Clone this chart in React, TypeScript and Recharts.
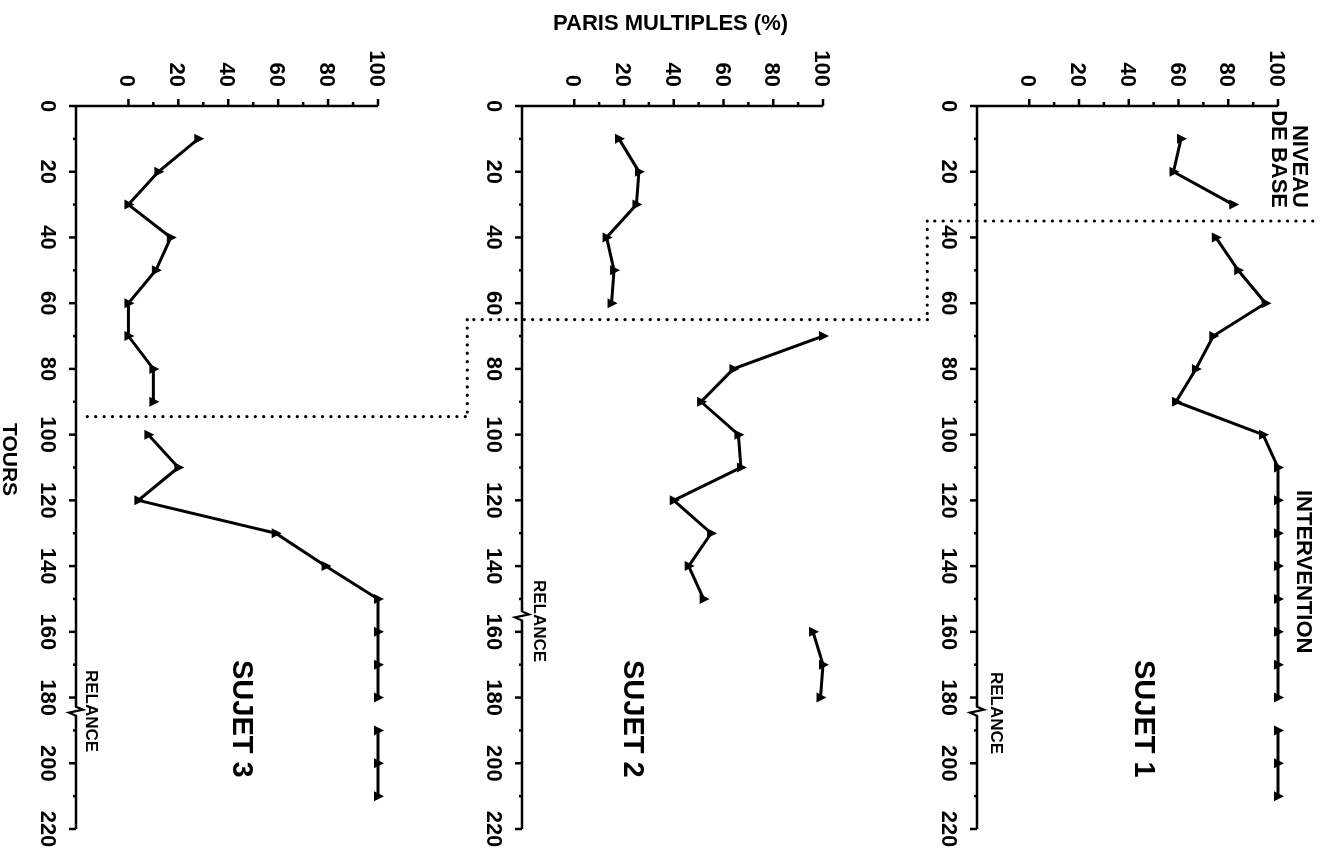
import { LineChart, Line, XAxis, YAxis, ReferenceLine, ReferenceDot } from "recharts";

// Tours (x) and "paris multiples" in % (y)
const S1_TOURS = [10, 20, 30, 40, 50, 60, 70, 80, 90, 100, 110, 120, 130, 140, 150, 160, 170, 180, 190, 200, 210];
const S1_PCT = [61, 58, 82, 75, 84, 95, 74, 67, 59, 94, 100, 100, 100, 100, 100, 100, 100, 100, 100, 100, 100];

const S2_TOURS = [10, 20, 30, 40, 50, 60, 70, 80, 90, 100, 110, 120, 130, 140, 150, 160, 170, 180];
const S2_PCT = [18, 26, 25, 13, 16, 15, 100, 64, 51, 66, 67, 40, 55, 46, 52, 96, 100, 99];

const S3_TOURS = [10, 20, 30, 40, 50, 60, 70, 80, 90, 100, 110, 120, 130, 140, 150, 160, 170, 180, 190, 200, 210];
const S3_PCT = [28, 12, 0, 17, 11, 0, 0, 10, 10, 8, 20, 4, 59, 79, 100, 100, 100, 100, 100, 100, 100];

// start of intervention and start of follow-up (relance), per subject
const PHASE_CHANGE = [35, 65, 94.5];
const RELANCE_BREAK = [184, 155, 184];

const TOUR_TICKS = [0, 10, 20, 30, 40, 50, 60, 70, 80, 90, 100, 110, 120, 130, 140, 150, 160, 170, 180, 190, 200, 210, 220];
const PCT_TICKS = [0, 10, 20, 30, 40, 50, 60, 70, 80, 90, 100];

const FONT = "'Liberation Sans', Arial, sans-serif";

// the figure is drawn upright (tours across) and then turned a quarter turn
const W = 853;
const H = 1328;

const panels = [
  { name: "SUJET 1", tours: S1_TOURS, pct: S1_PCT, top: 0, height: 430, plotTop: 50, plotBottom: 351, stair: [114, -41], labelY: 183, relX: 672, relY: 331 },
  { name: "SUJET 2", tours: S2_TOURS, pct: S2_PCT, top: 380, height: 500, plotTop: 505, plotBottom: 806, stair: [142, -43], labelY: 694, relX: 580, relY: 788 },
  { name: "SUJET 3", tours: S3_TOURS, pct: S3_PCT, top: 840, height: 488, plotTop: 950, plotBottom: 1252, stair: [135, -19], labelY: 1085, relX: 670, relY: 1236 },
];

const TourTick = (props: any) => {
  const { x, y, payload } = props;
  const major = payload.value % 20 === 0;
  return (
    <g>
      <line x1={x} y1={y} x2={x} y2={y + (major ? 7 : 3)} stroke="#000" strokeWidth={2.5} />
      {major && (
        <text x={x} y={y + 35} textAnchor="middle" fontFamily={FONT} fontWeight={700} fontSize={22} fill="#000">
          {payload.value}
        </text>
      )}
    </g>
  );
};

const PctTick = (props: any) => {
  const { x, y, payload } = props;
  const major = payload.value % 20 === 0;
  return (
    <g>
      <line x1={x} y1={y} x2={x - (major ? 7 : 4)} y2={y} stroke="#000" strokeWidth={2.5} />
      {major && (
        <text x={x - 19} y={y + 8} textAnchor="end" fontFamily={FONT} fontWeight={700} fontSize={22} fill="#000">
          {payload.value}
        </text>
      )}
    </g>
  );
};

const Triangle = (props: any) => {
  const { cx, cy, index } = props;
  if (cx == null || cy == null) return <g key={index} />;
  return <path key={index} d={`M${cx},${cy - 6} L${cx + 5},${cy + 4} L${cx - 5},${cy + 4} Z`} fill="#000" />;
};

const BreakMark = (props: any) => {
  const { cx, cy } = props;
  return (
    <g>
      <rect x={cx - 4} y={cy - 3} width={9} height={6} fill="#fff" />
      <path
        d={`M${cx - 8},${cy} L${cx - 4},${cy} L${cx - 1},${cy - 7} L${cx + 2},${cy + 7} L${cx + 5},${cy} L${cx + 8},${cy}`}
        fill="none"
        stroke="#000"
        strokeWidth={2.2}
      />
    </g>
  );
};

function Panel({ idx }: { idx: number }) {
  const p = panels[idx];
  const points = p.tours.map((t, i) => ({ tour: t, pct: p.pct[i] }));
  const baseline = points.filter((d) => d.tour < PHASE_CHANGE[idx]);
  const intervention = points.filter((d) => d.tour > PHASE_CHANGE[idx] && d.tour < RELANCE_BREAK[idx]);
  const relance = points.filter((d) => d.tour > RELANCE_BREAK[idx]);
  const phase = PHASE_CHANGE[idx];
  const next = PHASE_CHANGE[idx + 1];
  const dotted = { stroke: "#000", strokeWidth: 3.2, strokeDasharray: "0.1 8.3", strokeLinecap: "round" as const };

  return (
    <div style={{ position: "absolute", left: 0, top: p.top }}>
      <LineChart
        width={W}
        height={p.height}
        margin={{ top: p.plotTop - p.top, right: 24, left: 26, bottom: p.top + p.height - p.plotBottom - 50 }}
      >
        <XAxis
          type="number"
          dataKey="tour"
          domain={[0, 220]}
          ticks={TOUR_TICKS}
          interval={0}
          height={50}
          tickSize={0}
          tickMargin={0}
          tickLine={false}
          tick={<TourTick />}
          axisLine={{ stroke: "#000", strokeWidth: 2.5 }}
        />
        <YAxis
          type="number"
          dataKey="pct"
          domain={[-21, 100]}
          ticks={PCT_TICKS}
          interval={0}
          width={80}
          tickSize={0}
          tickMargin={0}
          tickLine={false}
          tick={<PctTick />}
          axisLine={{ stroke: "#000", strokeWidth: 2.5 }}
        />
        <ReferenceLine segment={[{ x: phase, y: p.stair[0] }, { x: phase, y: p.stair[1] }]} ifOverflow="visible" {...dotted} />
        {next !== undefined && (
          <ReferenceLine segment={[{ x: phase, y: p.stair[1] }, { x: next, y: p.stair[1] }]} ifOverflow="visible" {...dotted} />
        )}
        <ReferenceDot x={RELANCE_BREAK[idx]} y={-21} ifOverflow="visible" shape={BreakMark} />
        {[baseline, intervention, relance].map((seg, i) => (
          <Line
            key={i}
            data={seg}
            dataKey="pct"
            type="linear"
            stroke="#000"
            strokeWidth={3}
            dot={<Triangle />}
            activeDot={false}
            isAnimationActive={false}
          />
        ))}
      </LineChart>
    </div>
  );
}

const text = (size: number) => ({
  position: "absolute" as const,
  fontFamily: FONT,
  fontWeight: 700,
  fontSize: size,
  lineHeight: `${size}px`,
  whiteSpace: "nowrap" as const,
  color: "#000",
});

export default function App() {
  return (
    <>
      <style>{`body{margin:0;overflow:hidden;background:#fff}`}</style>
      <div style={{ ...text(22), position: "fixed", left: 553, top: 12 }}>PARIS MULTIPLES (%)</div>
      <div
        style={{
          position: "fixed",
          left: 0,
          top: 0,
          width: W,
          height: H,
          transformOrigin: "0 0",
          transform: `translate(${H}px, 0) rotate(90deg)`,
        }}
      >
        {panels.map((p, i) => (
          <Panel key={p.name} idx={i} />
        ))}
        <div style={{ ...text(22), left: 100, width: 108, top: 17, lineHeight: "21px", textAlign: "right" }}>
          NIVEAU
          <br />
          DE BASE
        </div>
        <div style={{ ...text(22), left: 490, top: 23 - 10 }}>INTERVENTION</div>
        {panels.map((p) => (
          <div key={p.name + "l"} style={{ ...text(29), left: 660, top: p.labelY - 14 }}>
            {p.name}
          </div>
        ))}
        {panels.map((p) => (
          <div key={p.name + "r"} style={{ ...text(17), left: p.relX, top: p.relY - 8 }}>
            RELANCE
          </div>
        ))}
        <div style={{ ...text(21), left: 423, top: 1317 - 10 }}>TOURS</div>
      </div>
    </>
  );
}
